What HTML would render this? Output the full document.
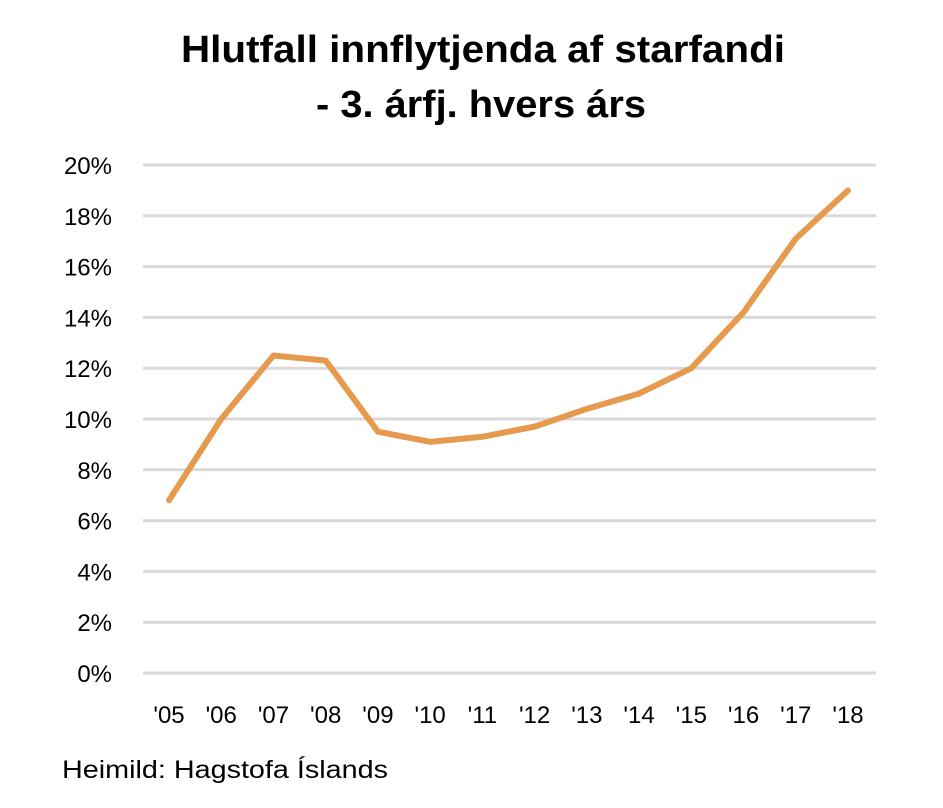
<!DOCTYPE html>
<html><head><meta charset="utf-8"><style>
html,body{margin:0;padding:0;background:#fff;}
svg{display:block;font-family:"Liberation Sans",sans-serif;}
</style></head><body>
<svg id="chart" width="943" height="808">
<text x="181" y="62" textLength="604" lengthAdjust="spacingAndGlyphs" font-size="38" font-weight="bold" fill="#000">Hlutfall innflytjenda af starfandi</text>
<text x="316" y="117" textLength="330" lengthAdjust="spacingAndGlyphs" font-size="38" font-weight="bold" fill="#000">- 3. árfj. hvers árs</text>
<g id="grid"></g><g id="yt"></g><g id="xt"></g><g id="series"></g>
<text x="62" y="778" textLength="326" lengthAdjust="spacingAndGlyphs" font-size="25" fill="#000">Heimild: Hagstofa Íslands</text>
</svg>
<script>
const categories=["'05","'06","'07","'08","'09","'10","'11","'12","'13","'14","'15","'16","'17","'18"];
const values=[6.8,10.0,12.5,12.3,9.5,9.1,9.3,9.7,10.4,11.0,12.0,14.2,17.1,19.0];
const yTicks=[0,2,4,6,8,10,12,14,16,18,20];
const NS="http://www.w3.org/2000/svg";
const y=v=>673-v*25.4;
const x=i=>169+i*(848-169)/(categories.length-1);
function mk(t,a,p){const e=document.createElementNS(NS,t);for(const k in a)e.setAttribute(k,a[k]);p.appendChild(e);return e;}
const g=document.getElementById('grid'),yt=document.getElementById('yt'),xt=document.getElementById('xt'),s=document.getElementById('series');
yTicks.forEach(v=>{
 const l=mk('line',{x1:143,x2:876,y1:y(v),y2:y(v),stroke:'#d9d9d9','stroke-width':3},g);
 
 
 const t=mk('text',{x:112,y:y(v)+9,'text-anchor':'end','font-size':24,fill:'#000'},yt);
 t.textContent=v+'%';
 
 
});
categories.forEach((c,i)=>{
 const t=mk('text',{x:x(i),y:723,'text-anchor':'middle','font-size':24,fill:'#000'},xt);
 t.textContent=c;
 
 
});
const p=mk('polyline',{points:values.map((v,i)=>x(i)+','+y(v)).join(' '),fill:'none',stroke:'#E59A4E','stroke-width':6,'stroke-linejoin':'round','stroke-linecap':'round'},s);


</script>
</body></html>
